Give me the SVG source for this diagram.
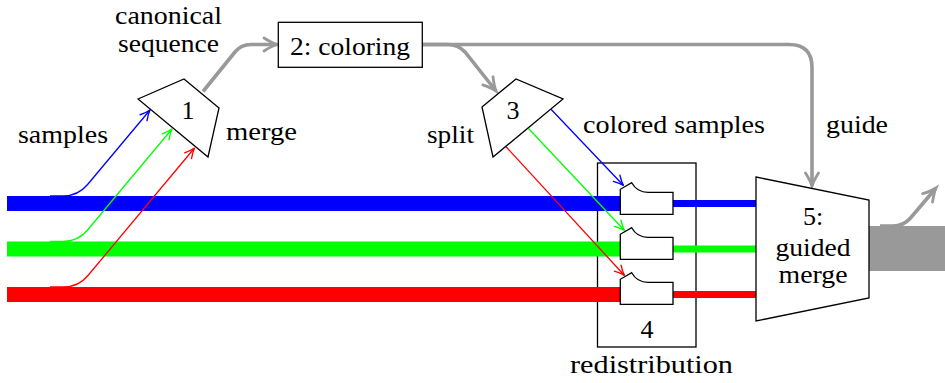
<svg xmlns="http://www.w3.org/2000/svg" width="945" height="383" viewBox="0 0 945 383">
<defs>
<style>
.t{font-family:'Liberation Serif','DejaVu Serif','Times New Roman',serif;font-size:26px;fill:#000}
.m{text-anchor:middle}
.shape{fill:#fff;stroke:#000;stroke-width:1.3;stroke-linejoin:miter}
.g{fill:none;stroke:#999;stroke-width:3.6}
.thin{fill:none;stroke-width:1.3}
</style>
<marker id="ag" markerUnits="userSpaceOnUse" viewBox="-16 -9 18 18" markerWidth="18" markerHeight="18" refX="0" refY="0" orient="auto" overflow="visible">
<path d="M-13,-6.5 Q-5,-1.5 0,0 Q-5,1.5 -13,6.5" fill="none" stroke="#999" stroke-width="2.8" stroke-linecap="round"/>
</marker>
<marker id="ab" markerUnits="userSpaceOnUse" viewBox="-12 -6 14 12" markerWidth="14" markerHeight="12" refX="0" refY="0" orient="auto" overflow="visible">
<path d="M-10,-4.5 Q-4,-1 0,0 Q-4,1 -10,4.5" fill="none" stroke="#00f" stroke-width="1.4" stroke-linecap="round"/>
</marker>
<marker id="agr" markerUnits="userSpaceOnUse" viewBox="-12 -6 14 12" markerWidth="14" markerHeight="12" refX="0" refY="0" orient="auto" overflow="visible">
<path d="M-10,-4.5 Q-4,-1 0,0 Q-4,1 -10,4.5" fill="none" stroke="#0f0" stroke-width="1.4" stroke-linecap="round"/>
</marker>
<marker id="ar" markerUnits="userSpaceOnUse" viewBox="-12 -6 14 12" markerWidth="14" markerHeight="12" refX="0" refY="0" orient="auto" overflow="visible">
<path d="M-10,-4.5 Q-4,-1 0,0 Q-4,1 -10,4.5" fill="none" stroke="#f00" stroke-width="1.4" stroke-linecap="round"/>
</marker>
</defs>
<rect width="945" height="383" fill="#fff"/>

<g id="node4-frame">
<rect x="597.5" y="163" width="98.5" height="184" fill="none" stroke="#000" stroke-width="1.3"/>
</g>

<g id="connectors">
<line x1="7" y1="203.5" x2="622" y2="203.5" stroke="#00f" stroke-width="15"/>
<line x1="7" y1="249" x2="622" y2="249" stroke="#0f0" stroke-width="15"/>
<line x1="7" y1="294.5" x2="622" y2="294.5" stroke="#f00" stroke-width="15"/>
<line x1="672" y1="203.5" x2="757" y2="203.5" stroke="#00f" stroke-width="7"/>
<line x1="672" y1="249" x2="757" y2="249" stroke="#0f0" stroke-width="7"/>
<line x1="672" y1="294.5" x2="757" y2="294.5" stroke="#f00" stroke-width="7"/>
<rect x="869" y="226" width="76" height="45" fill="#999"/>
<path class="thin" stroke="#00f" marker-end="url(#ab)" d="M50,196 H63 Q78,196 87.6,184.5 L150,110"/>
<path class="thin" stroke="#0f0" marker-end="url(#agr)" d="M50,241.5 H63 Q78,241.5 87.6,230 L172,129"/>
<path class="thin" stroke="#f00" marker-end="url(#ar)" d="M50,287 H63.5 Q78.5,287 88,275.5 L194.5,148"/>
<path class="thin" stroke="#00f" marker-end="url(#ab)" d="M551,109.3 L623.5,185.5"/>
<path class="thin" stroke="#0f0" marker-end="url(#agr)" d="M528.5,128.5 L624.5,230.5"/>
<path class="thin" stroke="#f00" marker-end="url(#ar)" d="M506,146.7 L624.5,275.5"/>
<path class="g" marker-end="url(#ag)" d="M203,91.5 L235,52 Q241,44.5 251,44.5 L277,44.5"/>
<path class="g" marker-end="url(#ag)" d="M422,44.5 H448 Q458,44.5 465,52 L496,91"/>
<path class="g" marker-end="url(#ag)" d="M422,44.5 H789 Q812,44.5 812,67.5 V186"/>
<path class="g" marker-end="url(#ag)" d="M880,226 H893 Q903.5,226 910.5,218 L936,188"/>
</g>

<g id="node1">
<polygon class="shape" points="138,99 184,79 219,108 208,157"/>
<text class="t m" x="188" y="119">1</text>
</g>

<g id="node2">
<rect class="shape" x="278.3" y="22.3" width="144" height="45"/>
<text class="t m" x="350" y="55" textLength="120" lengthAdjust="spacingAndGlyphs">2: coloring</text>
</g>

<g id="node3">
<polygon class="shape" points="482,107 516,79 563,99 493,157"/>
<text class="t m" x="513" y="119">3</text>
</g>

<g id="node4">
<path class="shape" d="M620.3,214.3 V189.3 L631.7,182.7 Q637,192.3 648,192.3 H673 V214.3 Z"/>
<path class="shape" d="M620.3,259.3 V234.3 L631.7,227.7 Q637,237.3 648,237.3 H673 V259.3 Z"/>
<path class="shape" d="M620.3,304.3 V279.3 L631.7,272.7 Q637,282.3 648,282.3 H673 V304.3 Z"/>
<text class="t m" x="647" y="338">4</text>
</g>

<g id="node5">
<polygon class="shape" points="756,177 869,200 869,298 756,321"/>
<text class="t m" x="813" y="225">5:</text>
<text class="t m" x="813" y="256" textLength="75" lengthAdjust="spacingAndGlyphs">guided</text>
<text class="t m" x="813" y="283" textLength="69" lengthAdjust="spacingAndGlyphs">merge</text>
</g>

<g id="labels">
<text class="t m" x="168.5" y="24" textLength="107" lengthAdjust="spacingAndGlyphs">canonical</text>
<text class="t m" x="168.5" y="52" textLength="101" lengthAdjust="spacingAndGlyphs">sequence</text>
<text class="t" x="18" y="143" textLength="90" lengthAdjust="spacingAndGlyphs">samples</text>
<text class="t" x="226" y="140" textLength="71" lengthAdjust="spacingAndGlyphs">merge</text>
<text class="t" x="427" y="143" textLength="47" lengthAdjust="spacingAndGlyphs">split</text>
<text class="t" x="583" y="133" textLength="182" lengthAdjust="spacingAndGlyphs">colored samples</text>
<text class="t" x="826" y="133" textLength="62" lengthAdjust="spacingAndGlyphs">guide</text>
<text class="t" x="570" y="373" textLength="163" lengthAdjust="spacingAndGlyphs">redistribution</text>
</g>
</svg>
